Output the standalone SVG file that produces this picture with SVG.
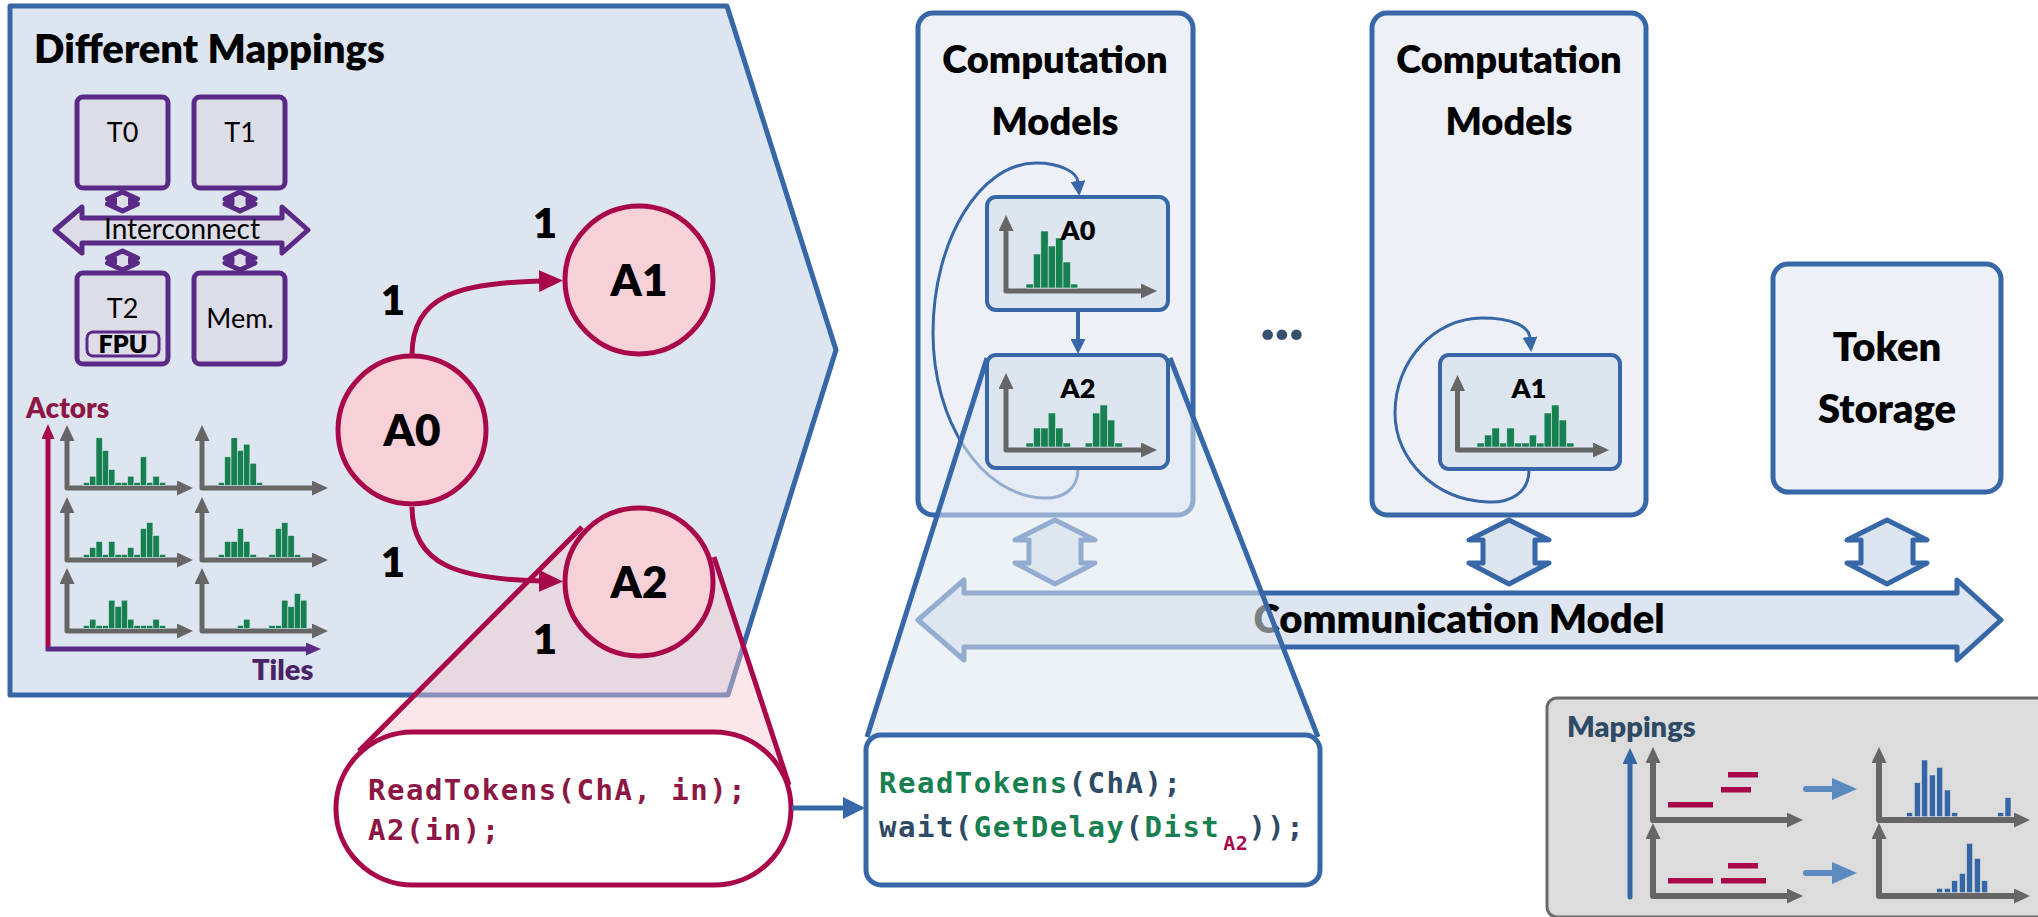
<svg xmlns="http://www.w3.org/2000/svg" width="2038" height="917" viewBox="0 0 2038 917">
<style>
.t{font-family:Lato,"Liberation Sans",sans-serif}
.b{font-weight:800}
.bar{fill:#178050;stroke:#dde6f0;stroke-width:0.6}
.bbar{fill:#3465a4;stroke:#dcdcdc;stroke-width:0.6}
.ax{fill:none;stroke:#666;stroke-width:5;stroke-linejoin:round;marker-start:url(#ah);marker-end:url(#ah)}
.ax6{fill:none;stroke:#666;stroke-width:6;stroke-linejoin:round;marker-start:url(#ah);marker-end:url(#ah)}
.tile{fill:#dddde8;stroke:#5b2a86;stroke-width:5}
.conn{fill:#dddde8;stroke:#5b2a86;stroke-width:5;stroke-linejoin:round}
.bconn{fill:#dde6f0;stroke:#3767a6;stroke-width:5;stroke-linejoin:round}
.actor{fill:#f7d1d8;stroke:#a8084a;stroke-width:5}
.edge{fill:none;stroke:#a8084a;stroke-width:5;marker-end:url(#ahRed)}
.box{fill:#edf1f7;stroke:#3767a6;stroke-width:5}
.ibox{fill:#dde5ef;stroke:#3767a6;stroke-width:4}
.loop{fill:none;stroke:#3767a6;stroke-width:3;marker-end:url(#ahBs)}
.code{font-family:"DejaVu Sans Mono",monospace;font-weight:700;font-size:29px;letter-spacing:1.5px}
.rb{fill:#a8084a}
</style>
<defs>
<marker id="ah" markerUnits="userSpaceOnUse" viewBox="0 0 16 15" markerWidth="16" markerHeight="15" refX="2" refY="7.5" orient="auto-start-reverse"><path d="M0,0L16,7.5L0,15z" fill="#666"/></marker>
<marker id="ahR" markerUnits="userSpaceOnUse" viewBox="0 0 15 13" markerWidth="15" markerHeight="13" refX="2" refY="6.5" orient="auto"><path d="M0,0L15,6.5L0,13z" fill="#a8084a"/></marker>
<marker id="ahP" markerUnits="userSpaceOnUse" viewBox="0 0 15 13" markerWidth="15" markerHeight="13" refX="2" refY="6.5" orient="auto"><path d="M0,0L15,6.5L0,13z" fill="#5b2a86"/></marker>
<marker id="ahRed" markerUnits="userSpaceOnUse" viewBox="0 0 24 22" markerWidth="24" markerHeight="22" refX="2" refY="11" orient="auto"><path d="M0,0L24,11L0,22z" fill="#a8084a"/></marker>
<marker id="ahB" markerUnits="userSpaceOnUse" viewBox="0 0 22 22" markerWidth="22" markerHeight="22" refX="2" refY="11" orient="auto"><path d="M0,0L22,11L0,22z" fill="#3767a6"/></marker>
<marker id="ahBm" markerUnits="userSpaceOnUse" viewBox="0 0 15 15" markerWidth="15" markerHeight="15" refX="2" refY="7.5" orient="auto"><path d="M0,0L15,7.5L0,15z" fill="#3767a6"/></marker>
<marker id="ahBs" markerUnits="userSpaceOnUse" viewBox="0 0 15 15" markerWidth="15" markerHeight="15" refX="1" refY="7.5" orient="auto"><path d="M0,0L15,7.5L0,15z" fill="#3767a6"/></marker>
<marker id="ahLB" markerUnits="userSpaceOnUse" viewBox="0 0 25 22" markerWidth="25" markerHeight="22" refX="2" refY="11" orient="auto"><path d="M0,0L25,11L0,22z" fill="#5b8ac0"/></marker>
<marker id="ahV" markerUnits="userSpaceOnUse" viewBox="0 0 16 15" markerWidth="16" markerHeight="15" refX="2" refY="7.5" orient="auto"><path d="M0,0L16,7.5L0,15z" fill="#3465a4"/></marker>
</defs>

<!-- Left panel: Different Mappings -->
<g id="mappings-panel">
<polygon points="10,6 727,6 836,350 728,695 10,695" fill="#dde6f0" stroke="#3767a6" stroke-width="5" stroke-linejoin="round"/>
<text class="t b" x="34" y="63" font-size="40" fill="#000">Different Mappings</text>
</g>

<g id="platform">
<path class="conn" d="M122.5,192L137.5,199L130.5,199L130.5,204L137.5,204L122.5,211L107.5,204L114.5,204L114.5,199L107.5,199Z"/>
<path class="conn" d="M240,192L255,199L248,199L248,204L255,204L240,211L225,204L232,204L232,199L225,199Z"/>
<path class="conn" d="M122.5,251L137.5,258L130.5,258L130.5,263L137.5,263L122.5,270L107.5,263L114.5,263L114.5,258L107.5,258Z"/>
<path class="conn" d="M240,251L255,258L248,258L248,263L255,263L240,270L225,263L232,263L232,258L225,258Z"/>
<g id="tile-T0"><rect class="tile" x="77" y="97" width="91" height="91" rx="6"/><text class="t" x="122.5" y="142" font-size="27" text-anchor="middle">T0</text></g>
<g id="tile-T1"><rect class="tile" x="194" y="97" width="91" height="91" rx="6"/><text class="t" x="240" y="142" font-size="27" text-anchor="middle">T1</text></g>
<g id="tile-T2"><rect class="tile" x="77" y="273" width="91" height="91" rx="6"/><text class="t" x="122.5" y="318" font-size="27" text-anchor="middle">T2</text>
<rect x="87" y="332" width="72" height="24" rx="6" fill="none" stroke="#5b2a86" stroke-width="3"/><text class="t b" x="123" y="353" font-size="25" text-anchor="middle">FPU</text></g>
<g id="tile-Mem"><rect class="tile" x="194" y="273" width="91" height="91" rx="6"/><text class="t" x="240" y="328" font-size="27" text-anchor="middle">Mem.</text></g>
<g id="interconnect"><polygon points="55,230 82,207 82,218 282,218 282,207 308,230 282,253 282,243 82,243 82,253" fill="#dddde8" stroke="#5b2a86" stroke-width="5" stroke-linejoin="round"/>
<text class="t" x="182" y="239" font-size="28" text-anchor="middle">Interconnect</text></g>
</g>

<g id="actor-tile-charts">
<text class="t b" x="26" y="418" font-size="28" fill="#8c1744">Actors</text>
<line x1="48" y1="651" x2="48" y2="437" stroke="#a8084a" stroke-width="5" marker-end="url(#ahR)"/>
<line x1="46" y1="649" x2="308" y2="649" stroke="#5b2a86" stroke-width="5" marker-end="url(#ahP)"/>
<text class="t b" x="252" y="680" font-size="29" fill="#4b2466">Tiles</text>
<path class="ax" d="M67,439V488H179"/>
<path class="ax" d="M202,439V488H314"/>
<path class="ax" d="M67,511V560H179"/>
<path class="ax" d="M202,511V560H314"/>
<path class="ax" d="M67,582V631H179"/>
<path class="ax" d="M202,582V631H314"/>
<g transform="translate(67,488)">
<rect class="bar" x="16.3" y="-5.5" width="6.33" height="3"/><rect class="bar" x="22.6" y="-11.8" width="6.33" height="9.3"/><rect class="bar" x="29" y="-50.2" width="6.33" height="47.7"/><rect class="bar" x="35.3" y="-37.5" width="6.33" height="35"/><rect class="bar" x="41.6" y="-18.5" width="6.33" height="16"/><rect class="bar" x="48" y="-5.5" width="6.33" height="3"/><rect class="bar" x="54.3" y="-5.5" width="6.33" height="3"/><rect class="bar" x="60.6" y="-11.8" width="6.33" height="9.3"/><rect class="bar" x="66.9" y="-5.5" width="6.33" height="3"/><rect class="bar" x="73.3" y="-31.2" width="6.33" height="28.7"/><rect class="bar" x="79.6" y="-5.5" width="6.33" height="3"/><rect class="bar" x="85.9" y="-11.8" width="6.33" height="9.3"/><rect class="bar" x="92.3" y="-5.5" width="6.33" height="3"/>
</g>
<g transform="translate(202,488)">
<rect class="bar" x="16.3" y="-5.5" width="6.33" height="3"/><rect class="bar" x="22.6" y="-31.2" width="6.33" height="28.7"/><rect class="bar" x="29" y="-50.2" width="6.33" height="47.7"/><rect class="bar" x="35.3" y="-37.5" width="6.33" height="35"/><rect class="bar" x="41.6" y="-43.8" width="6.33" height="41.3"/><rect class="bar" x="48" y="-24.8" width="6.33" height="22.3"/><rect class="bar" x="54.3" y="-5.5" width="6.33" height="3"/>
</g>
<g transform="translate(67,560)">
<rect class="bar" x="16.3" y="-5.5" width="6.33" height="3"/><rect class="bar" x="22.6" y="-12.5" width="6.33" height="10"/><rect class="bar" x="29" y="-18.5" width="6.33" height="16"/><rect class="bar" x="35.3" y="-5.5" width="6.33" height="3"/><rect class="bar" x="41.6" y="-18.5" width="6.33" height="16"/><rect class="bar" x="48" y="-5.5" width="6.33" height="3"/><rect class="bar" x="54.3" y="-5.5" width="6.33" height="3"/><rect class="bar" x="60.6" y="-12.5" width="6.33" height="10"/><rect class="bar" x="66.9" y="-5.5" width="6.33" height="3"/><rect class="bar" x="73.3" y="-31.5" width="6.33" height="29"/><rect class="bar" x="79.6" y="-37.5" width="6.33" height="35"/><rect class="bar" x="85.9" y="-24.5" width="6.33" height="22"/><rect class="bar" x="92.3" y="-5.5" width="6.33" height="3"/>
</g>
<g transform="translate(202,560)">
<rect class="bar" x="16.3" y="-5.5" width="6.33" height="3"/><rect class="bar" x="22.6" y="-18.5" width="6.33" height="16"/><rect class="bar" x="29" y="-18.5" width="6.33" height="16"/><rect class="bar" x="35.3" y="-31.5" width="6.33" height="29"/><rect class="bar" x="41.6" y="-18.5" width="6.33" height="16"/><rect class="bar" x="48" y="-5.5" width="6.33" height="3"/><rect class="bar" x="66.9" y="-5.5" width="6.33" height="3"/><rect class="bar" x="73.3" y="-31.5" width="6.33" height="29"/><rect class="bar" x="79.6" y="-37.5" width="6.33" height="35"/><rect class="bar" x="85.9" y="-24.5" width="6.33" height="22"/><rect class="bar" x="92.3" y="-5.5" width="6.33" height="3"/>
</g>
<g transform="translate(67,631)">
<rect class="bar" x="16.3" y="-5.5" width="6.33" height="3"/><rect class="bar" x="22.6" y="-11.8" width="6.33" height="9.3"/><rect class="bar" x="29" y="-5.5" width="6.33" height="3"/><rect class="bar" x="35.3" y="-5.5" width="6.33" height="3"/><rect class="bar" x="41.6" y="-30.8" width="6.33" height="28.3"/><rect class="bar" x="48" y="-24.5" width="6.33" height="22"/><rect class="bar" x="54.3" y="-30.8" width="6.33" height="28.3"/><rect class="bar" x="60.6" y="-11.8" width="6.33" height="9.3"/><rect class="bar" x="66.9" y="-5.5" width="6.33" height="3"/><rect class="bar" x="73.3" y="-5.5" width="6.33" height="3"/><rect class="bar" x="79.6" y="-5.5" width="6.33" height="3"/><rect class="bar" x="85.9" y="-11.8" width="6.33" height="9.3"/><rect class="bar" x="92.3" y="-5.5" width="6.33" height="3"/>
</g>
<g transform="translate(202,631)">
<rect class="bar" x="35.3" y="-5.5" width="6.33" height="3"/><rect class="bar" x="41.6" y="-11.8" width="6.33" height="9.3"/><rect class="bar" x="66.9" y="-5.5" width="6.33" height="3"/><rect class="bar" x="73.3" y="-5.5" width="6.33" height="3"/><rect class="bar" x="79.6" y="-30.8" width="6.33" height="28.3"/><rect class="bar" x="85.9" y="-24.5" width="6.33" height="22"/><rect class="bar" x="92.3" y="-37.5" width="6.33" height="35"/><rect class="bar" x="98.6" y="-30.8" width="6.33" height="28.3"/>
</g>
</g>

<!-- Computation model box 1 -->
<g id="computation-models-1">
<rect class="box" x="918" y="13" width="275" height="502" rx="15"/>
<text class="t b" x="1055" y="73" font-size="38" text-anchor="middle">Computation</text>
<text class="t b" x="1055" y="135" font-size="38" text-anchor="middle">Models</text>
</g>

<g id="connectors-back">
<path class="loop" d="M1078,469C1078,490 1062,499 1043,498C980,495 933,420 933,333C933,240 980,163 1036,163C1060,163 1077,172 1078,182"/>
</g>

<g id="communication-model">
<polygon points="918,620 964,580 964,593 1957,593 1957,580 2001,620 1957,660 1957,647 964,647 964,660" fill="#dde6f0" stroke="#3767a6" stroke-width="5" stroke-linejoin="round"/>
<text class="t b" x="1459" y="633" font-size="40" text-anchor="middle">Communication Model</text>
</g>
<g id="comm-links">
<path class="bconn" d="M1055,520L1095,540L1081,540L1081,563L1095,563L1055,584L1015,563L1029,563L1029,540L1015,540Z"/>
<path class="bconn" d="M1509,520L1549,540L1535,540L1535,563L1549,563L1509,584L1469,563L1483,563L1483,540L1469,540Z"/>
<path class="bconn" d="M1887,520L1927,540L1913,540L1913,563L1927,563L1887,584L1847,563L1861,563L1861,540L1847,540Z"/>
</g>

<g id="computation-models-2">
<rect class="box" x="1372" y="13" width="274" height="502" rx="15"/>
<text class="t b" x="1509" y="73" font-size="38" text-anchor="middle">Computation</text>
<text class="t b" x="1509" y="135" font-size="38" text-anchor="middle">Models</text>
<path class="loop" d="M1529,470C1529,493 1510,503 1488,502C1435,500 1395,460 1395,413C1395,360 1435,318 1482,318C1512,318 1529,326 1530,338"/>
</g>
<g id="box-A1">
<rect class="ibox" x="1440" y="355" width="180" height="114" rx="9"/>
<text class="t b" x="1529" y="398" font-size="27" text-anchor="middle">A1</text>
<path class="ax" d="M1457.5,389V450H1595"/>
<g transform="translate(1457.5,450)">
<rect class="bar" x="19.5" y="-7" width="7.46" height="4"/><rect class="bar" x="27" y="-15" width="7.46" height="12"/><rect class="bar" x="34.4" y="-22" width="7.46" height="19"/><rect class="bar" x="41.9" y="-7" width="7.46" height="4"/><rect class="bar" x="49.3" y="-22" width="7.46" height="19"/><rect class="bar" x="56.8" y="-7" width="7.46" height="4"/><rect class="bar" x="64.3" y="-7" width="7.46" height="4"/><rect class="bar" x="71.7" y="-15" width="7.46" height="12"/><rect class="bar" x="79.2" y="-7" width="7.46" height="4"/><rect class="bar" x="86.6" y="-37" width="7.46" height="34"/><rect class="bar" x="94.1" y="-45" width="7.46" height="42"/><rect class="bar" x="101.6" y="-30" width="7.46" height="27"/><rect class="bar" x="109" y="-7" width="7.46" height="4"/>
</g>
</g>

<g id="token-storage">
<rect class="box" x="1773" y="264" width="228" height="228" rx="15"/>
<text class="t b" x="1887" y="361" font-size="40" text-anchor="middle">Token</text>
<text class="t b" x="1887" y="423" font-size="40" text-anchor="middle">Storage</text>
</g>

<text id="ellipsis" class="t b" x="1282" y="340" font-size="60" fill="#34506b" text-anchor="middle">...</text>

<!-- blue zoom overlay -->
<polygon id="zoom-blue" points="987,358 1170,358 1320,737 866,737" fill="#dfe7f1" fill-opacity="0.55"/>

<g id="box-A0">
<rect class="ibox" x="987" y="197" width="181" height="113" rx="9"/>
<path class="ax" d="M1006,229V291H1143"/>
<g transform="translate(1006,291)">
<rect class="bar" x="20" y="-7" width="7.4" height="4"/><rect class="bar" x="27.4" y="-37" width="7.4" height="34"/><rect class="bar" x="34.8" y="-60" width="7.4" height="57"/><rect class="bar" x="42.2" y="-45" width="7.4" height="42"/><rect class="bar" x="49.6" y="-53" width="7.4" height="50"/><rect class="bar" x="57" y="-29" width="7.4" height="26"/><rect class="bar" x="64.4" y="-7" width="7.4" height="4"/>
</g>
<text class="t b" x="1078" y="240" font-size="27" text-anchor="middle">A0</text>
</g>
<g id="box-A2">
<rect class="ibox" x="987" y="355" width="181" height="113" rx="9"/>
<text class="t b" x="1078" y="398" font-size="27" text-anchor="middle">A2</text>
<path class="ax" d="M1006,387V450H1143"/>
<g transform="translate(1006,450)">
<rect class="bar" x="20" y="-7" width="7.4" height="4"/><rect class="bar" x="27.4" y="-22" width="7.4" height="19"/><rect class="bar" x="34.8" y="-22" width="7.4" height="19"/><rect class="bar" x="42.2" y="-37" width="7.4" height="34"/><rect class="bar" x="49.6" y="-22" width="7.4" height="19"/><rect class="bar" x="57" y="-7" width="7.4" height="4"/><rect class="bar" x="79.2" y="-7" width="7.4" height="4"/><rect class="bar" x="86.6" y="-37" width="7.4" height="34"/><rect class="bar" x="94" y="-45" width="7.4" height="42"/><rect class="bar" x="101.4" y="-30" width="7.4" height="27"/><rect class="bar" x="108.8" y="-7" width="7.4" height="4"/>
</g>
</g>
<g id="connectors-mid">
<line x1="1078" y1="311" x2="1078" y2="341" stroke="#3767a6" stroke-width="4" marker-end="url(#ahBm)"/>
<path d="M987,358L867,737M1170,358L1318,737" fill="none" stroke="#3767a6" stroke-width="5"/>
</g>

<g id="code-model">
<rect x="866" y="735" width="454" height="150" rx="15" fill="#fff" stroke="#3767a6" stroke-width="5"/>
<text class="code" x="879" y="793"><tspan fill="#178050">ReadTokens</tspan><tspan fill="#2e4a66">(ChA);</tspan></text>
<text class="code" x="879" y="837"><tspan fill="#2e4a66">wait(</tspan><tspan fill="#178050">GetDelay</tspan><tspan fill="#2e4a66">(</tspan><tspan fill="#178050">Dist</tspan><tspan fill="#a8084a" font-size="20" letter-spacing="0.5" dx="3" dy="13">A2</tspan><tspan fill="#2e4a66" dy="-13">));</tspan></text>
</g>

<!-- pink zoom overlay -->
<polygon id="zoom-pink" points="582,527 714,557 790,786 560,810 358,752" fill="#f6c6cf" fill-opacity="0.44"/>

<g id="actor-edges">
<path class="edge" d="M412,355C412,295 460,283 541,281"/>
<path class="edge" d="M412,507C412,566 460,579 541,581"/>
<text class="t b" x="545" y="238" font-size="42" text-anchor="middle">1</text>
<text class="t b" x="393" y="315" font-size="42" text-anchor="middle">1</text>
<text class="t b" x="393" y="577" font-size="42" text-anchor="middle">1</text>
<text class="t b" x="545" y="654" font-size="42" text-anchor="middle">1</text>
</g>
<g id="actor-A0"><circle class="actor" cx="412" cy="430" r="74"/><text class="t b" x="412" y="446" font-size="44" text-anchor="middle">A0</text></g>
<g id="actor-A1"><circle class="actor" cx="639" cy="280" r="74"/><text class="t b" x="639" y="296" font-size="44" text-anchor="middle">A1</text></g>
<g id="actor-A2"><circle class="actor" cx="639" cy="582" r="74"/><text class="t b" x="639" y="598" font-size="44" text-anchor="middle">A2</text></g>

<g id="code-actor">
<path d="M582,527L359,751M714,557L789,785" fill="none" stroke="#a8084a" stroke-width="5"/>
<rect x="336" y="732" width="455" height="153" rx="77" ry="76" fill="#fff" stroke="#a8084a" stroke-width="5"/>
<text class="code" x="368" y="800" fill="#8c1744">ReadTokens(ChA, in);</text>
<text class="code" x="368" y="840" fill="#8c1744">A2(in);</text>
</g>
<g id="connector-code">
<line x1="792" y1="808" x2="845" y2="808" stroke="#3767a6" stroke-width="5" marker-end="url(#ahB)"/>
</g>

<!-- Legend -->
<g id="legend">
<rect x="1547" y="698" width="600" height="219" rx="10" fill="#dcdcdc" stroke="#6b6b6b" stroke-width="3"/>
<text class="t b" x="1567" y="737" font-size="29" fill="#2e4a66">Mappings</text>
<line x1="1630" y1="897" x2="1630" y2="762" stroke="#3465a4" stroke-width="5" stroke-linecap="round" marker-end="url(#ahV)"/>
<path class="ax6" d="M1653,761V820H1789"/>
<path class="ax6" d="M1653,837V896H1789"/>
<rect class="rb" x="1668" y="802" width="45" height="5.5"/><rect class="rb" x="1721" y="787" width="30" height="5.5"/><rect class="rb" x="1728" y="772" width="30" height="5.5"/>
<rect class="rb" x="1668" y="878" width="45" height="5.5"/><rect class="rb" x="1721" y="878" width="45" height="5.5"/><rect class="rb" x="1728" y="863" width="30" height="5.5"/>
<line x1="1806" y1="789" x2="1834" y2="789" stroke="#5b8ac0" stroke-width="6" stroke-linecap="round" marker-end="url(#ahLB)"/>
<line x1="1806" y1="873" x2="1834" y2="873" stroke="#5b8ac0" stroke-width="6" stroke-linecap="round" marker-end="url(#ahLB)"/>
<path class="ax6" d="M1879,761V820H2016"/>
<path class="ax6" d="M1879,837V896H2016"/>
<rect class="bbar" x="1906.7" y="812.7" width="6" height="4"/><rect class="bbar" x="1914.3" y="782.7" width="6" height="34"/><rect class="bbar" x="1921.7" y="760" width="6" height="56.7"/><rect class="bbar" x="1929.3" y="775" width="6" height="41.7"/><rect class="bbar" x="1936.7" y="767.3" width="6" height="49.4"/><rect class="bbar" x="1944.3" y="790" width="6" height="26.7"/><rect class="bbar" x="1951.7" y="812.7" width="6" height="4"/><rect class="bbar" x="1997.7" y="812.7" width="6" height="4"/><rect class="bbar" x="2005" y="797.7" width="6" height="19"/>
<rect class="bbar" x="1936.7" y="888.3" width="6" height="4.4"/><rect class="bbar" x="1944.3" y="888.3" width="6" height="4.4"/><rect class="bbar" x="1951.7" y="880.7" width="6" height="12"/><rect class="bbar" x="1959.3" y="873.3" width="6" height="19.4"/><rect class="bbar" x="1966.7" y="843.3" width="6" height="49.4"/><rect class="bbar" x="1974.3" y="858.3" width="6" height="34.4"/><rect class="bbar" x="1981.7" y="880.7" width="6" height="12"/>
</g>
</svg>
